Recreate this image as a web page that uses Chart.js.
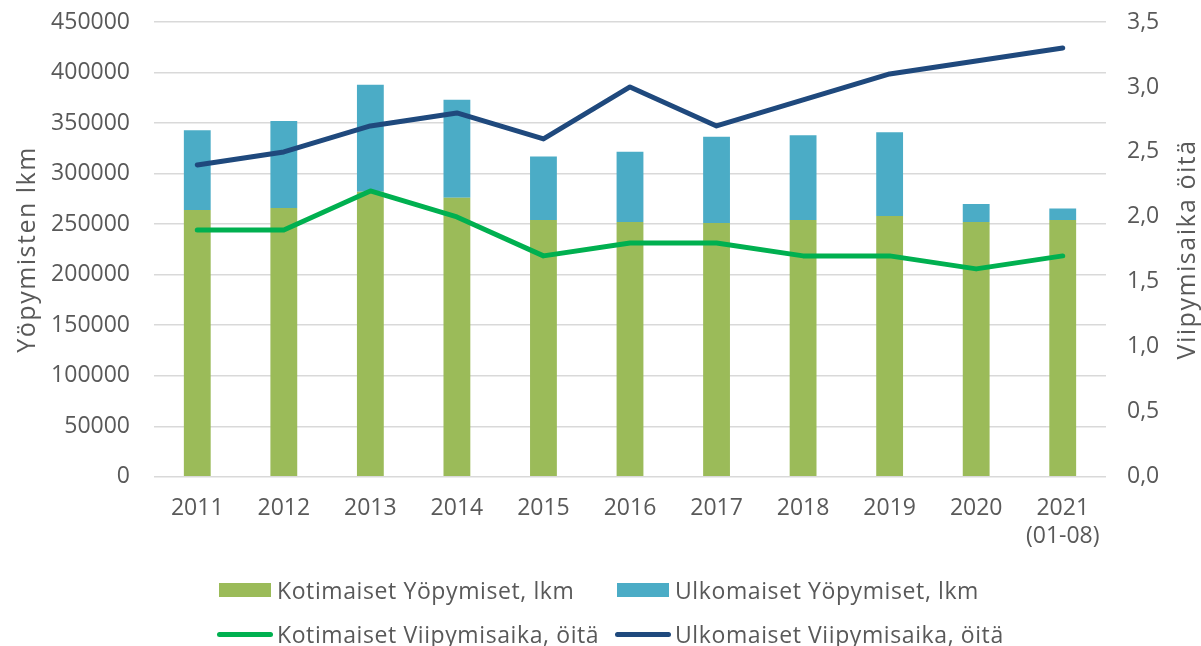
<!DOCTYPE html>
<html>
<head>
<meta charset="utf-8">
<script src="https://cdn.jsdelivr.net/npm/chart.js@4"></script>
<style>
  body { margin: 0; background: #fff; }
  #wrap { position: relative; width: 1201px; height: 646px; }
  #legend { position: absolute; left: 0; top: 0; width: 1201px; height: 646px; pointer-events: none;
            font-family: 'Open Sans', sans-serif; font-size: 23px; letter-spacing: 0.6px; color: #595959; }
  .item { position: absolute; display: flex; align-items: center; height: 30px; white-space: nowrap; }
  .box { width: 52px; height: 14px; margin-right: 6px; }
  .ln { width: 56px; height: 5px; border-radius: 3px; margin-left: -2px; margin-right: 4px; }
</style>
</head>
<body>
<div id="wrap">
  <canvas id="chart" width="1201" height="646"></canvas>
  <div id="legend"></div>
</div>
<script>
// ----------------------------
// Data
// ----------------------------
const years = ['2011', '2012', '2013', '2014', '2015', '2016', '2017', '2018', '2019', '2020', ['2021', '(01-08)']];
const kotimaisetYopymiset = [264000, 266000, 282000, 276000, 254000, 252000, 251000, 254000, 258000, 252000, 254000];
const ulkomaisetYopymiset = [79000, 86000, 106000, 97000, 63000, 69500, 85500, 84000, 83000, 18000, 11500];
const kotimaisetViipymisaika = [1.9, 1.9, 2.2, 2.0, 1.7, 1.8, 1.8, 1.7, 1.7, 1.6, 1.7];
const ulkomaisetViipymisaika = [2.4, 2.5, 2.7, 2.8, 2.6, 3.0, 2.7, 2.9, 3.1, 3.2, 3.3];

const seriesNames = [
    'Kotimaiset Yöpymiset, lkm',
    'Ulkomaiset Yöpymiset, lkm',
    'Kotimaiset Viipymisaika, öitä',
    'Ulkomaiset Viipymisaika, öitä'
];
const leftTitle = 'Yöpymisten lkm';
const rightTitle = 'Viipymisaika öitä';
const colors = ['#9bbb59', '#4bacc6', '#00b050', '#1f497d'];

const textColor = '#595959';
const fontFamily = "'Open Sans', sans-serif";

// axis titles both read bottom-to-top, so draw them ourselves
const axisTitles = {
    id: 'axisTitles',
    afterDraw(chart) {
        const c = chart.ctx;
        const area = chart.chartArea;
        const midY = (area.top + area.bottom) / 2;
        c.save();
        c.fillStyle = textColor;
        c.font = '25px ' + fontFamily;
        c.letterSpacing = '1.5px';
        c.textAlign = 'center';
        c.textBaseline = 'middle';
        [[28, leftTitle], [1188, rightTitle]].forEach(([x, t]) => {
            c.save();
            c.translate(x, midY);
            c.rotate(-Math.PI / 2);
            c.fillText(t, 0, 0);
            c.restore();
        });
        c.restore();
    }
};

// ----------------------------
// Chart
// ----------------------------
const ctx = document.getElementById('chart').getContext('2d');
new Chart(ctx, {
    data: {
        labels: years,
        datasets: [
            {
                type: 'line', label: seriesNames[2], data: kotimaisetViipymisaika, yAxisID: 'y1',
                borderColor: colors[2], backgroundColor: colors[2], borderWidth: 5,
                pointRadius: 0, borderCapStyle: 'round', borderJoinStyle: 'round', order: 0
            },
            {
                type: 'line', label: seriesNames[3], data: ulkomaisetViipymisaika, yAxisID: 'y1',
                borderColor: colors[3], backgroundColor: colors[3], borderWidth: 5,
                pointRadius: 0, borderCapStyle: 'round', borderJoinStyle: 'round', order: 0
            },
            {
                type: 'bar', label: seriesNames[0], data: kotimaisetYopymiset, yAxisID: 'y',
                backgroundColor: colors[0], categoryPercentage: 1, barPercentage: 0.31, order: 1
            },
            {
                type: 'bar', label: seriesNames[1], data: ulkomaisetYopymiset, yAxisID: 'y',
                backgroundColor: colors[1], categoryPercentage: 1, barPercentage: 0.31, order: 1
            }
        ]
    },
    options: {
        responsive: false,
        animation: false,
        layout: { padding: { top: 22, bottom: 86, left: 0, right: 0 } },
        plugins: { legend: { display: false }, tooltip: { enabled: false } },
        scales: {
            x: {
                stacked: true,
                grid: { display: false },
                border: { display: false },
                ticks: { color: textColor, font: { family: fontFamily, size: 23 }, padding: 10, maxRotation: 0 }
            },
            y: {
                stacked: true,
                min: 0, max: 450000,
                grid: { color: '#d9d9d9', lineWidth: 1.5, drawTicks: false },
                border: { display: false },
                ticks: {
                    stepSize: 50000, color: textColor, font: { family: fontFamily, size: 23 }, padding: 24,
                    callback: v => String(v)
                },
                afterFit: s => { s.width = 154; s.paddingTop = 0; s.paddingBottom = 0; }
            },
            y1: {
                position: 'right',
                min: 0, max: 3.5,
                grid: { display: false, drawTicks: false },
                border: { display: false },
                ticks: {
                    stepSize: 0.5, color: textColor, font: { family: fontFamily, size: 23 }, padding: 21,
                    callback: v => v.toFixed(1).replace('.', ',')
                },
                afterFit: s => { s.width = 95; s.paddingTop = 0; s.paddingBottom = 0; }
            }
        }
    },
    plugins: [axisTitles]
});

// ----------------------------
// Legend (two rows, built in HTML)
// ----------------------------
const legendPos = [[219, 575], [617, 575], [219, 619], [617, 619]];
const legend = document.getElementById('legend');
seriesNames.forEach((name, i) => {
    const item = document.createElement('div');
    item.className = 'item';
    item.style.left = legendPos[i][0] + 'px';
    item.style.top = legendPos[i][1] + 'px';
    const mark = document.createElement('span');
    mark.className = i < 2 ? 'box' : 'ln';
    mark.style.background = colors[i];
    const txt = document.createElement('span');
    txt.innerText = name;
    item.appendChild(mark);
    item.appendChild(txt);
    legend.appendChild(item);
});
</script>
</body>
</html>
